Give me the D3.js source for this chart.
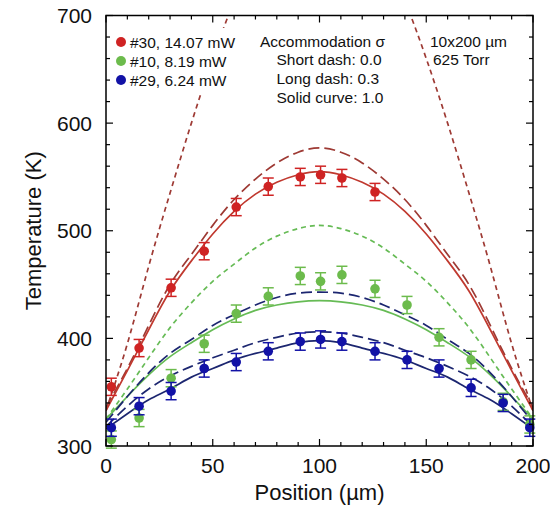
<!DOCTYPE html>
<html>
<head>
<meta charset="utf-8">
<script src="https://cdn.jsdelivr.net/npm/d3@7"></script>
<style>
  html, body { margin: 0; padding: 0; background: #fff; }
  svg { display: block; font-family: "Liberation Sans", Arial, Helvetica, sans-serif; }
</style>
</head>
<body>
<svg id="chart" width="550" height="509"></svg>
<script>
// measured positions (µm) and temperatures (K) of the three devices
const pointX = [2.5, 15.5, 30.5, 46, 61, 76, 91, 100.5, 110.5, 126, 141, 156, 171, 186, 198.5];
const redT   = [355, 391, 447, 481, 522, 541, 550, 552, 549, 536];
const greenT = [306, 326, 363, 395, 423, 439, 458, 453, 459, 446, 431, 401, 380, 341, 320];
const blueT  = [317, 337, 351, 372, 378, 388, 397, 399, 397, 388, 380, 372, 354, 340, 317];
const errK = 8;

const curveX = [0, 10, 20, 30, 40, 50, 60, 70, 80, 90, 100, 110, 120, 130, 140, 150, 160, 170, 180, 190, 200];
const redShort  = [333, 395, 467, 535, 600, 660, 714, 760, 795, 818, 825, 818, 795, 760, 714, 660, 600, 535, 467, 395, 333];
const redLong   = [336, 372, 412, 450, 478, 505, 529, 548, 563, 573, 577, 573, 563, 548, 529, 505, 478, 450, 412, 372, 336];
const redSolid  = [333, 370, 408, 444, 472, 497, 518, 534, 545, 552, 555, 552, 545, 534, 518, 497, 472, 444, 408, 370, 333];
const greenShort= [325, 353, 382, 410, 433, 453, 469, 484, 495, 502, 505, 502, 495, 484, 469, 453, 433, 410, 382, 353, 325];
const greenSolid= [325, 346, 366, 383, 396, 408, 418, 426, 431, 434, 435, 434, 431, 426, 418, 408, 396, 383, 366, 346, 325];
const navyLong  = [322, 346, 368, 386, 399, 412, 422, 431, 438, 442, 443, 442, 438, 431, 422, 412, 399, 386, 368, 346, 322];
const blueLong  = [318, 337, 353, 365, 374, 382, 389, 396, 401, 405, 406, 405, 401, 396, 389, 382, 374, 365, 353, 337, 318];
const blueSolid = [316, 330, 343, 353, 364, 372, 380, 386, 391, 396, 398, 396, 391, 386, 380, 372, 364, 353, 343, 330, 316];

const legendLabels = ['#30, 14.07 mW', '#10, 8.19 mW', '#29, 6.24 mW'];
const noteLines = ['Accommodation \u03c3', 'Short dash: 0.0', 'Long dash: 0.3', 'Solid curve: 1.0'];
const deviceLines = ['10x200 \u00b5m', '625 Torr'];

const C = { red: '#cf2323', green: '#6cbb4c', blue: '#1212a6',
            redLine: '#c0392f', redDash: '#9e3a34', greenLine: '#66bb55', navy: '#1c2670' };

const svg = d3.select('#chart');
const m = {left: 106, right: 533, top: 15.5, bottom: 446};
const x = d3.scaleLinear().domain([0, 200]).range([m.left, m.right]);
const y = d3.scaleLinear().domain([300, 700]).range([m.bottom, m.top]);

svg.append('clipPath').attr('id', 'clip').append('rect')
  .attr('x', m.left).attr('y', m.top).attr('width', m.right - m.left).attr('height', m.bottom - m.top);

const plot = svg.append('g').attr('clip-path', 'url(#clip)');
const line = d3.line().x((d, i) => x(curveX[i])).y(d => y(d)).curve(d3.curveNatural);

const curves = [
  {v: redShort, c: C.redDash, dash: '5,4'},
  {v: redLong, c: C.redDash, dash: '11,5'},
  {v: redSolid, c: C.redLine, dash: null},
  {v: greenShort, c: C.greenLine, dash: '5,4'},
  {v: greenSolid, c: C.greenLine, dash: null},
  {v: navyLong, c: C.navy, dash: '11,5'},
  {v: blueLong, c: C.navy, dash: '11,5'},
  {v: blueSolid, c: C.navy, dash: null}
];
curves.forEach(d => {
  plot.append('path').attr('d', line(d.v)).attr('fill', 'none')
    .attr('stroke', d.c).attr('stroke-width', 1.7)
    .attr('stroke-dasharray', d.dash);
});

// error bars + points
function drawSeries(T, col) {
  const g = svg.append('g');
  T.forEach((t, i) => {
    const px = x(pointX[i]);
    g.append('line').attr('x1', px).attr('x2', px).attr('y1', y(t - errK)).attr('y2', y(t + errK))
      .attr('stroke', col).attr('stroke-width', 1.5);
    [t - errK, t + errK].forEach(e => g.append('line')
      .attr('x1', px - 5.5).attr('x2', px + 5.5).attr('y1', y(e)).attr('y2', y(e))
      .attr('stroke', col).attr('stroke-width', 1.5));
    g.append('circle').attr('cx', px).attr('cy', y(t)).attr('r', 4.8).attr('fill', col);
  });
}
drawSeries(greenT, C.green);
drawSeries(blueT, C.blue);
drawSeries(redT, C.red);

// frame and ticks (all inward)
const ax = svg.append('g').attr('stroke', '#000');
ax.append('rect').attr('x', m.left).attr('y', m.top).attr('width', m.right - m.left)
  .attr('height', m.bottom - m.top).attr('fill', 'none').attr('stroke-width', 1.5);
d3.range(0, 201, 10).forEach(v => {
  const len = v % 50 === 0 ? 7 : 4;
  ax.append('line').attr('x1', x(v)).attr('x2', x(v)).attr('y1', m.bottom).attr('y2', m.bottom - len).attr('stroke-width', 1.2);
  ax.append('line').attr('x1', x(v)).attr('x2', x(v)).attr('y1', m.top).attr('y2', m.top + len).attr('stroke-width', 1.2);
});
d3.range(300, 701, 20).forEach(v => {
  const len = v % 100 === 0 ? 7 : 4;
  ax.append('line').attr('x1', m.left).attr('x2', m.left + len).attr('y1', y(v)).attr('y2', y(v)).attr('stroke-width', 1.2);
  ax.append('line').attr('x1', m.right).attr('x2', m.right - len).attr('y1', y(v)).attr('y2', y(v)).attr('stroke-width', 1.2);
});

// tick labels
const xTicks = [0, 50, 100, 150, 200];
const yTicks = [300, 400, 500, 600, 700];
svg.selectAll('.xt').data(xTicks).enter().append('text')
  .attr('x', d => x(d)).attr('y', 473).attr('text-anchor', 'middle')
  .attr('font-size', 21).attr('fill', '#111').text(d => d);
svg.selectAll('.yt').data(yTicks).enter().append('text')
  .attr('x', 92).attr('y', d => y(d) + 7.5).attr('text-anchor', 'end')
  .attr('font-size', 21).attr('fill', '#111').text(d => d);

svg.append('text').attr('x', x(100)).attr('y', 500).attr('text-anchor', 'middle')
  .attr('font-size', 22).attr('fill', '#111').text('Position (\u00b5m)');
svg.append('text').attr('transform', `translate(41,${(m.top + m.bottom) / 2}) rotate(-90)`)
  .attr('text-anchor', 'middle').attr('font-size', 22).attr('fill', '#111').text('Temperature (K)');

// legend (white box hides the curve behind it)
svg.append('rect').attr('x', 112).attr('y', 28).attr('width', 130).attr('height', 66).attr('fill', '#fff');
[C.red, C.green, C.blue].forEach((c, i) => {
  svg.append('circle').attr('cx', 121).attr('cy', 42 + i * 19).attr('r', 5).attr('fill', c);
  svg.append('text').attr('x', 130).attr('y', 47.5 + i * 19).attr('font-size', 15.5)
    .attr('fill', '#111').text(legendLabels[i]);
});
noteLines.forEach((t, i) => {
  svg.append('text').attr('x', i === 0 ? 260 : 276.5).attr('y', 46.5 + i * 18.7)
    .attr('font-size', 15.5).attr('fill', '#111').text(t);
});
deviceLines.forEach((t, i) => {
  svg.append('text').attr('x', i === 0 ? 430 : 433).attr('y', 46.5 + i * 18.7)
    .attr('font-size', 15.5).attr('fill', '#111').text(t);
});
</script>
</body>
</html>
